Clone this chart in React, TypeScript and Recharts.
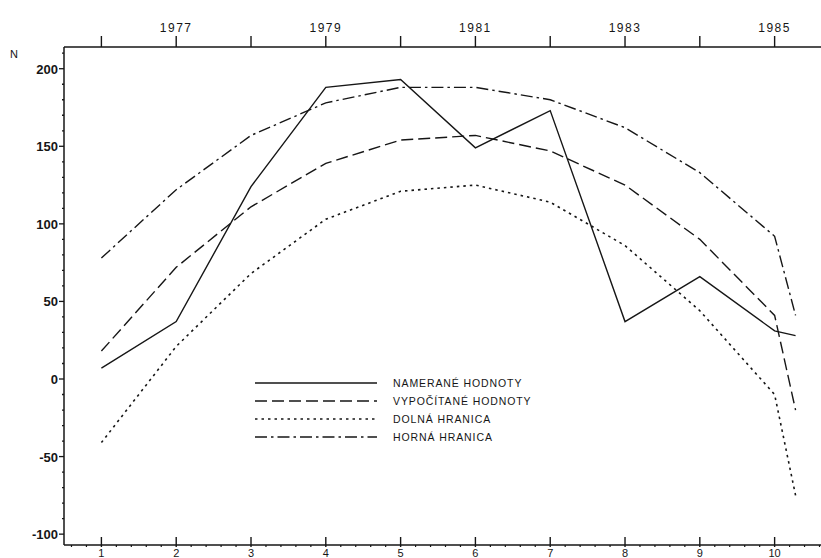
import React from 'react';
import { LineChart, Line, XAxis, YAxis } from 'recharts';

// x positions (1..10) plus the last plotted point a bit past 10
const xValues = [1, 2, 3, 4, 5, 6, 7, 8, 9, 10, 10.28];
const measured = [7, 37, 124, 188, 193, 149, 173, 37, 66, 31, 28];
const computed = [18, 72, 111, 139, 154, 157, 147, 125, 90, 41, -20];
const lower = [-41, 21, 68, 103, 121, 125, 114, 86, 44, -10, -75];
const upper = [78, 122, 157, 178, 188, 188, 180, 162, 133, 92, 41];

const bottomLabels = [1, 2, 3, 4, 5, 6, 7, 8, 9, 10];
const yearLabels = ['', '1977', '', '1979', '', '1981', '', '1983', '', '1985'];
const yLabels = [-100, -50, 0, 50, 100, 150, 200];

const series = [
  { key: 'measured', name: 'NAMERANÉ HODNOTY', dash: undefined, width: 1.4 },
  { key: 'computed', name: 'VYPOČÍTANÉ HODNOTY', dash: '12 5', width: 1.4 },
  { key: 'lower', name: 'DOLNÁ HRANICA', dash: '2.5 4', width: 1.6 },
  { key: 'upper', name: 'HORNÁ HRANICA', dash: '12 4 2.5 4', width: 1.4 },
];

const data = xValues.map((x, i) => ({
  x,
  measured: measured[i],
  computed: computed[i],
  lower: lower[i],
  upper: upper[i],
}));

const INK = '#161616';
const FONT = '"Liberation Sans", Arial, sans-serif';

// minor tick positions (axes only)
const yTicks: number[] = [];
for (let v = -100; v <= 210; v += 10) yTicks.push(v);
const xTicks: number[] = [];
for (let k = 3; k <= 53; k++) xTicks.push(Math.round(k * 2) / 10);

const isInt = (v: number) => Math.abs(v - Math.round(v)) < 1e-6;

const LeftTick = ({ x, y, payload }: any) => {
  const v = payload.value;
  const major = yLabels.includes(v);
  return (
    <g>
      <line x1={x - (major ? 5 : 2)} x2={x} y1={y} y2={y} stroke={INK} strokeWidth={1.3} />
      {major && (
        <text x={x - 6} y={y} dy={5} textAnchor="end" fontSize={13} fontWeight={600} fontFamily={FONT} fill={INK}>
          {v}
        </text>
      )}
    </g>
  );
};

const BottomTick = ({ x, y, payload }: any) => {
  const v = payload.value;
  const major = isInt(v);
  return (
    <g>
      {major ? (
        <line x1={x} x2={x} y1={y - 8} y2={y + 2} stroke={INK} strokeWidth={1.4} />
      ) : (
        <line x1={x} x2={x} y1={y} y2={y + 2} stroke={INK} strokeWidth={1.2} />
      )}
      {major && bottomLabels.includes(Math.round(v)) && (
        <text x={x} y={y + 12} textAnchor="middle" fontSize={11} fontFamily={FONT} fill={INK}>
          {Math.round(v)}
        </text>
      )}
    </g>
  );
};

const TopTick = ({ x, y, index }: any) => {
  const label = yearLabels[index] || '';
  return (
    <g>
      <line x1={x} x2={x} y1={y - 11} y2={y} stroke={INK} strokeWidth={1.4} />
      {label && (
        <text x={x} y={y - 15} textAnchor="middle" fontSize={12} letterSpacing={1.5} fontFamily={FONT} fill={INK}>
          {label}
        </text>
      )}
    </g>
  );
};

const LegendBox = () => (
  <div
    style={{
      position: 'absolute',
      left: 255,
      top: 374,
      fontFamily: FONT,
      fontSize: 10.5,
      color: INK,
      letterSpacing: 0.9,
    }}
  >
    {series.map((s) => (
      <div key={s.key} style={{ display: 'flex', alignItems: 'center', height: 18 }}>
        <svg width={124} height={6} style={{ marginRight: 14 }}>
          <line x1={0} x2={122} y1={3} y2={3} stroke={INK} strokeWidth={s.width} strokeDasharray={s.dash} />
        </svg>
        <span>{s.name}</span>
      </div>
    ))}
  </div>
);

export default function App() {
  return (
    <div style={{ position: 'absolute', left: 0, top: 0, width: 821, height: 558, background: '#fff' }}>
      <div style={{ position: 'absolute', left: 10, top: 48, fontFamily: FONT, fontSize: 11, color: INK }}>N</div>
      <LineChart width={821} height={558} data={data} margin={{ top: 0, right: 0, bottom: 0, left: 0 }}>
        <XAxis
          xAxisId="top"
          orientation="top"
          type="number"
          dataKey="x"
          domain={[0.5, 10.62]}
          allowDataOverflow
          ticks={bottomLabels}
          interval={0}
          height={47}
          tickSize={0}
          tickMargin={0}
          tickLine={false}
          tick={<TopTick />}
          axisLine={{ stroke: INK, strokeWidth: 1.5 }}
        />
        <XAxis
          type="number"
          dataKey="x"
          domain={[0.5, 10.62]}
          allowDataOverflow
          ticks={xTicks}
          interval={0}
          height={13}
          tickSize={0}
          tickMargin={0}
          tickLine={false}
          tick={<BottomTick />}
          axisLine={{ stroke: INK, strokeWidth: 1.5 }}
        />
        <YAxis
          type="number"
          domain={[-107, 214]}
          allowDataOverflow
          ticks={yTicks}
          interval={0}
          width={64}
          tickSize={0}
          tickMargin={0}
          tickLine={false}
          tick={<LeftTick />}
          axisLine={{ stroke: INK, strokeWidth: 1.5 }}
        />
        {series.map((s) => (
          <Line
            key={s.key}
            type="linear"
            dataKey={s.key}
            name={s.name}
            stroke={INK}
            strokeWidth={s.width}
            strokeDasharray={s.dash}
            dot={false}
            activeDot={false}
            isAnimationActive={false}
          />
        ))}
      </LineChart>
      <LegendBox />
    </div>
  );
}
